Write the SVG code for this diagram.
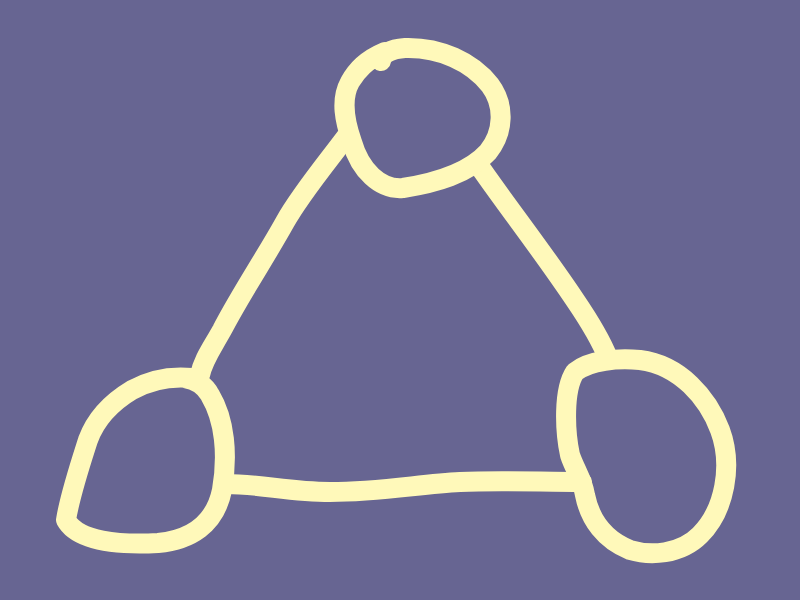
<svg xmlns="http://www.w3.org/2000/svg" width="800" height="600" viewBox="0 0 800 600">
<style>
.s{fill:none;stroke:#FFF9BA;stroke-width:20;stroke-linecap:round;stroke-linejoin:round}
</style>
<rect width="800" height="600" fill="#676592"/>
<g id="connectors">
<path class="s" d="M 346,137 C 325,165 300,195 285,222 C 265,258 240,295 222,330 C 212,348 203,360 200,375"/>
<path class="s" d="M 482,170 C 510,210 545,255 575,300 C 590,322 600,338 608,358"/>
<path class="s" d="M 226,484 C 260,484 290,492 330,492 C 380,492 420,484 460,482 C 500,480 540,482 582,482"/>
</g>
<g id="node-top">
<path class="s" d="M 381,61 C 382,54 390,49 405,48 C 440,47 472,62 490,85 C 505,105 504,132 488,152 C 468,174 435,183 403,188 C 380,190 360,170 352,142 C 345,122 340,100 350,82 C 357,70 366,60 385,52"/>
</g>
<g id="node-left">
<path class="s" d="M 192,378 C 172,376 150,380 132,390 C 112,402 96,418 88,440 C 80,465 70,495 66,520 C 78,542 120,545 158,543 C 190,540 215,525 222,490 C 228,455 225,420 210,395 C 205,386 198,380 185,378"/>
</g>
<g id="node-right">
<path class="s" d="M 575,372 C 590,360 618,358 640,360 C 680,365 708,398 720,430 C 733,465 725,510 700,535 C 680,555 650,556 630,550 C 605,540 590,520 585,495 C 582,478 575,470 570,455 C 565,432 563,390 575,372"/>
</g>
</svg>
